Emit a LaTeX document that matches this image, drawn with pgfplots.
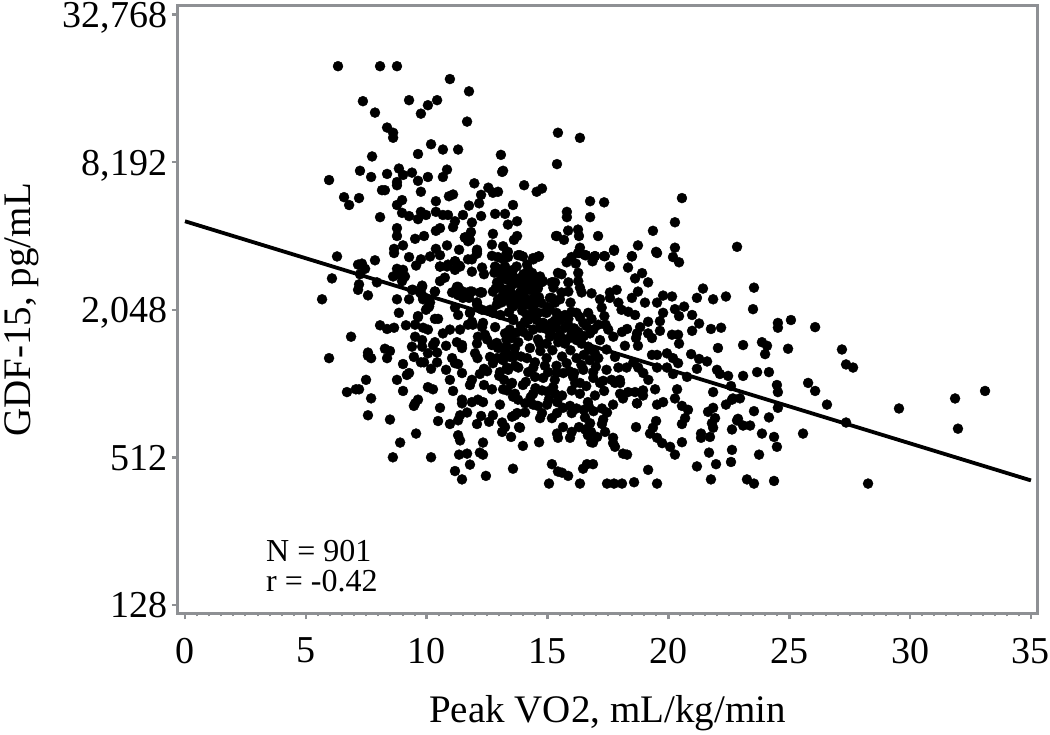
\documentclass[border=0pt]{standalone}
\usepackage{fontspec}
\setmainfont{Liberation Serif}
\usepackage{pgfplots}
\pgfplotsset{compat=1.18}
\definecolor{frame}{HTML}{8E9094}
\begin{document}
\begin{tikzpicture}
\path[use as bounding box] (0,0) rectangle (1050pt,734pt);
\begin{axis}[
  at={(178pt,120.5pt)}, anchor=south west,
  scale only axis, width=859pt, height=607.5pt,
  xmin=-0.29, xmax=35.25, ymode=log, log basis y=2, ymin=118, ymax=35570,
  axis line style={frame, line width=3pt},
  tick style={frame, line width=2.5pt},
  minor tick style={frame, line width=2pt},
  tick align=outside, major tick length=6pt, minor tick length=3pt,
  xtick={0,5,10,15,20,25,30,35}, xticklabels={0,5,10,15,20,25,30,35},
  minor x tick num=9, xtick pos=bottom,
  ytick={128,512,2048,8192,32768}, yticklabels={128,512,{2,048},{8,192},{32,768}},
  yminorticks=false, ytick pos=left,
  tick label style={font=\fontsize{38}{38}\selectfont},
  xticklabel style={yshift=-15pt}, yticklabel style={anchor=base east, yshift=-13pt, xshift=-1pt},
  xlabel={Peak VO2, mL/kg/min}, ylabel={GDF-15, pg/mL},
  label style={font=\fontsize{39}{39}\selectfont},
  xlabel style={yshift=-25pt}, ylabel style={yshift=17pt},
]
\addplot[only marks, mark=*, mark size=5pt, mark options={fill=black, draw=none}] coordinates {
(6.33,20200)(8.07,20200)(8.77,20200)(10.96,17900)(7.36,14540)(7.86,13060)(9.27,14680)(10.43,14680)(10.05,14000)(9.76,12930)
(11.75,15950)(11.67,12000)(8.36,11350)(8.61,10809)(8.61,10310)(10.18,9700)(9.64,8850)(10.67,9230)(11.3,9230)(7.74,8650)
(7.24,7560)(7.7,7132)(5.96,6930)(8.36,7340)(8.85,7720)(9.02,7270)(9.39,7430)(10.05,7132)(10.84,7643)(10.67,7132)
(9.64,6880)(8.77,6800)(8.77,6600)(8.15,6300)(8.27,6300)(9.76,6208)(11.09,6050)(10.92,5950)(6.58,5900)(7.2,5850)
(6.79,5480)(8.98,5740)(8.77,5480)(10.38,5680)(8.07,4890)(8.98,5090)(9.27,4940)(9.64,4800)(9.76,5140)(9.97,4990)
(10.38,5140)(10.67,4990)(10.88,4990)(11.5,4990)(11.75,5450)(11.17,4705)(11.09,4450)(10.55,4410)(10.38,4300)(8.77,4410)
(8.77,4096)(9.52,3990)(9.89,4096)(11.58,4040)(11.71,3900)(9.02,3750)(8.65,3630)(8.65,3490)(10.38,3630)(10.84,3750)
(11.34,3600)(10.55,3420)(10.14,3380)(9.76,3290)(9.27,3360)(9.56,3104)(11.71,3290)(6.29,3380)(7.86,3260)(7.32,3160)
(7.16,3130)(7.45,3010)(8.77,3010)(10.55,3075)(10.84,3075)(11.17,3230)(11.34,3104)
(6.08,2750)(5.67,2260)(7.2,2600)(7.16,2470)(7.57,2345)(7.94,2650)(7.24,2860)(8.77,2260)(9.27,2260)(8.85,1990)(10.47,1880)
(8.07,1770)(8.36,1710)(8.65,1730)(9.14,1770)(6.87,1590)(5.96,1300)(7.57,1370)(7.57,1330)(7.7,1300)(8.27,1420)(8.48,1390)
(8.36,1300)(9.39,1448)(9.02,1230)(9.47,1315)(9.76,1250)(9.89,1250)(10.05,1360)(10.43,1370)(10.43,1250)(10.18,1176)
(9.18,1110)(9.27,1130)(8.77,1060)(9.02,955)(7.49,1060)(6.7,945)(7.07,970)(7.2,970)(7.7,891)(7.57,760)(8.48,730)
(10.05,990)(10.26,970)(9.64,880)(9.52,850)(9.47,830)(10.55,815)(10.47,720)(9.56,640)(8.9,588)(8.6,512)(10.18,512)
(10.96,700)(11.38,760)(11.3,725)(11.67,780)(12.08,700)(12.25,755)(12.58,715)(12.74,760)(13.12,710)(13.24,680)(13.12,650)
(13.53,750)(13.74,776)(13.82,680)(13.49,620)(11.3,630)(11.38,600)(12.33,588)(12.2,535)(12.33,525)(11.34,525)(11.67,530)
(11.79,478)(11.17,450)(11.46,416)(12.45,430)(13.57,460)
(9.64,1930)(9.97,2048)(10.1,2110)(9.85,2260)(9.72,2410)(9.81,2570)(9.39,2470)(10.34,2430)(11.09,2410)(11.3,2540)(11.5,2430)
(11.87,2430)(11.71,2320)(12.25,2410)(11.17,2090)(11.3,1950)(11.79,1990)(12.08,2150)(12.29,2048)(9.52,1780)(9.85,1730)
(10.05,1700)(9.52,1590)(9.81,1540)(9.81,1448)(10.34,1510)(10.26,1470)(10.8,1460)(10.67,1640)(10.96,1700)(11.38,1700)
(11.71,1780)(11.87,1830)(12.29,1740)(12.12,1590)(12.41,1620)(11.25,1510)(11.46,1470)(11.46,1430)(12.0,1360)(12.08,1490)
(12.7,1470)(12.95,1430)(12.62,1315)(12.91,1300)(12.74,1240)(13.16,1275)(13.45,1315)(13.65,1340)(11.05,1300)(11.17,1240)
(11.3,1230)(10.8,1165)(11.46,1130)(10.96,1060)(12.37,1176)(13.03,1140)(13.32,1190)(11.87,1060)(11.79,1010)(12.37,1010)
(12.7,970)(13.16,970)(13.49,1020)(11.09,955)(11.46,880)(11.46,850)(11.87,860)(12.12,880)(12.33,860)(13.03,840)(13.57,905)(13.78,880)
(18.49,3380)(19.53,3490)(20.19,3360)(20.44,3200)(17.58,3075)(18.33,3045)(18.91,2890)(18.62,2750)(19.16,2650)(21.43,2500)
(21.18,2290)(21.85,2260)(22.38,2320)(18.74,2430)(18.49,2290)(19.03,2190)(19.53,2190)(19.78,2340)(20.15,2320)(20.27,2060)
(20.65,2110)(20.44,1930)(20.98,1950)(19.78,1990)(19.65,1840)(21.27,1800)(20.98,1680)(21.76,1710)(22.18,1730)(22.05,1430)
(19.16,1830)(18.83,1740)(18.7,1640)(18.29,1710)(18.08,1663)(19.65,1680)(19.16,1640)(19.32,1570)(20.15,1620)(20.4,1620)
(20.44,1490)(18.66,1570)(18.74,1460)(18.2,1460)(20.94,1350)(21.27,1290)(21.6,1260)(21.18,1176)(22.01,1165)(22.13,1120)
(22.47,1100)(22.59,1000)(19.32,1340)(19.53,1340)(19.94,1360)(20.19,1300)(20.4,1240)(19.53,1190)(19.94,1190)(20.19,1120)
(20.77,1090)(21.85,945)(22.67,890)(22.38,840)(21.85,815)(21.64,785)(21.93,740)(21.8,705)(21.85,676)(22.84,724)(22.63,665)
(21.35,640)(21.35,615)(21.72,620)(21.68,535)(22.63,549)(22.59,490)(21.97,480)(21.18,470)(21.76,416)(19.45,970)(20.36,970)
(20.27,890)(20.56,830)(19.78,860)(19.53,840)(20.81,800)(20.69,740)(20.56,700)(19.49,720)(19.36,676)(19.24,640)(19.53,615)
(19.74,585)(20.07,565)(20.27,525)(20.56,590)(18.66,680)(19.16,455)(19.53,400)(18.58,405)(17.46,400)(17.75,400)(18.08,400)
(16.34,400)(15.06,400)(15.18,480)(15.43,448)(15.6,443)(15.85,430)(16.47,460)(16.63,480)(16.88,480)(18.12,530)(18.29,525)
(17.71,615)(17.71,585)(17.79,565)(17.25,700)(17.38,650)(16.88,588)(17.05,620)(16.55,745)(16.76,705)(16.55,665)(16.67,630)
(15.64,680)(16.0,650)(15.93,615)(15.39,640)(15.43,615)(14.65,590)(13.98,570)(13.86,676)(17.25,810)(17.46,780)(17.71,840)
(18.7,850)(14.07,780)(13.65,760)(14.77,776)(14.69,740)(15.18,740)(15.39,776)(15.64,815)(15.93,830)(16.0,776)(14.98,840)
(14.4,840)(14.07,850)(13.53,1030)(13.98,1010)(13.65,930)(13.32,960)(14.4,930)(14.77,960)(15.23,990)(15.31,930)(15.6,915)
(16.14,1030)(16.0,960)(16.34,930)(16.67,860)(16.96,915)(17.34,955)(17.79,1030)(18.0,1030)(18.0,930)(18.12,890)(18.33,945)
(18.62,945)(18.95,960)(18.95,915)(18.7,850)
(13.31,3490)(13.86,3420)(14.62,3380)(14.41,3290)(13.17,2980)(13.72,3075)(14.2,2980)(14.55,2770)(14.75,2650)(14.0,2650)
(14.27,2470)(13.37,2720)(13.86,2410)(13.58,2260)(14.34,2260)(13.24,2470)(13.65,2150)(14.2,2150)(13.1,2195)(13.17,3290)
(14.0,2860)(13.58,2800)(14.34,2720)(15.17,2650)(15.31,2650)(15.58,2860)(15.79,3200)(15.99,3360)(16.17,3160)(16.34,3490)
(16.59,3420)(16.96,3390)(16.86,3230)(17.37,3390)(17.75,3566)(16.27,2896)(16.27,2680)(16.34,2521)(15.86,2650)(15.86,2430)
(15.17,2290)(15.51,2260)(15.95,2190)(15.24,2521)(15.58,2410)(16.41,2410)(16.82,2390)(17.17,2260)(17.58,2410)(17.86,2470)
(17.58,2290)(17.93,2190)(18.06,2048)(18.34,2010)(18.62,1950)(17.24,2090)(17.35,1930)(16.68,1990)(16.82,1880)(16.48,1810)
(16.27,1663)(16.75,1640)(15.99,2010)(15.72,1950)(15.37,1990)(14.96,1990)(14.62,1990)(14.34,1950)(14.2,1860)(14.06,1830)
(16.34,1911)(16.2,1990)(15.86,1880)(15.51,1860)(15.17,1810)(14.82,1810)(13.58,1860)(13.44,1700)(14.0,1663)(14.41,1700)
(14.68,1730)(15.03,1700)(15.37,1730)(15.72,1730)(16.0,1640)(15.51,1620)(15.1,1590)(14.68,1490)(14.27,1430)(13.79,1510)
(13.51,1570)(13.24,1640)(14.96,1490)(15.44,1510)(15.72,1490)(16.2,1540)(16.41,1490)(16.68,1448)(16.96,1360)(17.17,1540)
(17.51,1700)(17.72,1590)(17.44,1410)(17.79,1315)(17.93,1190)(18.27,1190)(18.55,1250)(18.75,1190)(18.96,1130)(19.17,1060)
(17.44,1165)(17.65,1060)(17.99,1060)(16.75,1410)(16.75,1275)(16.48,1165)(16.89,1140)(16.89,1080)(17.17,1030)(16.34,1030)
(16.06,1090)(15.79,1240)(15.37,1210)(15.37,1130)(15.65,1130)(14.96,1300)(14.89,1210)(15.03,1140)(14.82,1080)(14.48,1250)
(14.41,1190)(14.48,1090)(14.2,1140)(13.65,1210)(13.79,1190)(13.37,1165)(13.17,1315)(13.31,1360)(13.58,1315)(13.65,1430)
(13.31,1448)(13.1,1430)
(11.97,6720)(12.55,6450)(12.74,6150)(12.95,6208)(12.25,6030)(12.17,5570)(13.12,7480)(14.03,6600)(14.55,6208)(14.77,6400)
(13.57,5480)(12.25,4940)(11.87,4650)(11.83,4250)(11.58,4040)(11.79,3950)(12.83,5043)(13.24,5043)(13.36,4560)(13.74,4705)
(12.74,4180)(12.7,3780)(13.74,4096)(13.61,3950)(15.35,4096)(13.16,3720)(12.7,3400)(13.36,3530)(12.83,3075)(13.78,3420)
(13.98,3380)(14.4,3327)(14.65,3380)(12.08,3550)(11.87,3290)(12.29,3045)(11.87,2930)(12.37,2860)(12.95,3360)(13.24,3075)
(13.36,3360)(13.12,2896)(13.57,2980)(12.91,2650)(13.32,2720)(14.15,3130)(14.36,2896)(14.07,2800)(14.69,2800)(14.19,2540)
(14.48,2410)(14.81,2680)(13.03,2540)(12.74,2430)(12.95,2260)(13.65,2290)(13.32,2410)(13.98,2410)(13.78,2195)(14.27,2150)
(13.57,2110)(15.22,2650)(15.43,2896)(15.1,2290)(15.31,2190)(15.1,2048)(12.74,1990)(12.29,2410)(12.08,2195)(12.62,2048)
(13.57,1880)(14.15,1950)(14.55,1860)(14.81,1810)(11.79,1990)(12.33,1810)(12.83,1740)(11.91,1780)
(10.55,3075)(10.88,3130)(11.17,3230)(11.38,3075)(11.17,2980)(10.75,2770)(10.55,2680)(11.25,2540)(11.05,2410)(11.3,2350)
(11.5,2290)(11.79,2430)(11.75,2290)(12.2,2410)(8.77,2860)(9.02,2980)(9.1,2800)(8.61,2800)(8.98,2680)(9.81,2540)(9.43,2470)
(9.81,2350)(9.93,2290)(10.34,2430)(10.14,2195)(10.05,2090)(9.64,1911)(10.34,1880)
% upper centre
(15.43,10809)(16.34,10300)(15.39,8050)(13.07,8780)(13.16,7560)(15.8,5140)(15.8,4890)(16.76,5680)(17.34,5620)(16.76,4890)
(20.56,5850)(20.27,4660)(19.36,4300)(18.74,3750)(19.49,3530)(20.27,3670)(22.84,3700)(15.39,4096)(15.68,3950)(15.85,4310)
(16.26,4350)(16.3,4096)(17.09,4096)(16.34,3670)(16.26,3490)(16.55,3420)(16.96,3390)(17.34,3390)(17.75,3600)(18.49,3390)
(12.08,3600)(12.08,3470)
% right
(23.54,2521)(23.5,2060)(24.53,1810)(24.53,1730)(25.07,1860)(26.07,1740)(23.09,1470)(23.87,1510)(24.08,1460)(24.0,1350)
(24.95,1420)(27.18,1410)(27.35,1225)(27.64,1190)(23.09,1100)(23.67,1140)(24.16,1140)(24.49,1010)(24.53,945)(25.78,1030)
(26.07,955)(22.63,880)(22.96,891)(24.53,815)(26.56,840)(23.54,790)(24.16,745)(22.88,735)(23.09,690)(23.38,690)(23.87,640)
(24.37,620)(24.49,565)(25.57,640)(27.35,710)(29.54,810)(31.86,890)(33.1,955)(31.98,670)(23.75,525)(23.25,416)(23.54,400)
(24.37,410)(28.26,400)
% dense centre
(12.8,2900)(13.0,3000)(13.1,2750)(13.45,2870)(13.5,2560)(13.7,2640)(13.85,2750)(13.95,2530)(14.1,2620)(14.35,2590)(14.5,2600)
(14.6,2500)(14.65,2300)(14.05,2300)(13.75,2350)(13.5,2380)(13.15,2350)(12.85,2500)(12.9,2150)(13.25,2250)(13.5,2150)(13.95,2180)
(14.45,2150)(14.75,2180)(15.0,2100)(14.9,2000)(14.4,2020)(13.95,2030)(13.4,2000)(13.05,1950)
(15.1,1650)(15.45,1580)(15.85,1560)(16.1,1720)(16.5,1600)(16.9,1700)(17.1,1780)(17.4,1780)(16.6,1760)(15.85,1780)(15.3,1850)
(15.95,1400)(15.6,1320)(16.2,1300)(16.5,1340)(17.1,1300)(17.0,1200)(17.3,1050)(16.4,1220)(15.9,1150)(15.2,1400)(14.7,1390)
(14.6,1550)(14.2,1600)(13.9,1320)(14.15,1300)(13.7,1650)(13.3,1550)(13.9,1760)(16.1,1130)(16.6,1000)(15.3,1060)(15.0,950)
(14.5,980)(14.1,1040)(13.0,1100)(13.2,1060)(12.9,1500)(12.5,1550)(12.5,1150)(12.2,1120)(12.1,1300)
(16.9,790)(16.7,830)(16.5,800)(15.4,860)(15.05,880)(14.6,830)(14.3,900)(16.2,810)(17.3,730)(16.8,650)(16.8,590)(16.3,680)
};
\addplot[black, line width=3.8pt] coordinates {(0,4705)(35,412)};
\node[anchor=base west, inner sep=0pt, font=\fontsize{32}{32}\selectfont] at (axis cs:3.35,192) {N = 901};
\node[anchor=base west, inner sep=0pt, font=\fontsize{32}{32}\selectfont] at (axis cs:3.35,145) {r = -0.42};
\end{axis}
\end{tikzpicture}
\end{document}
